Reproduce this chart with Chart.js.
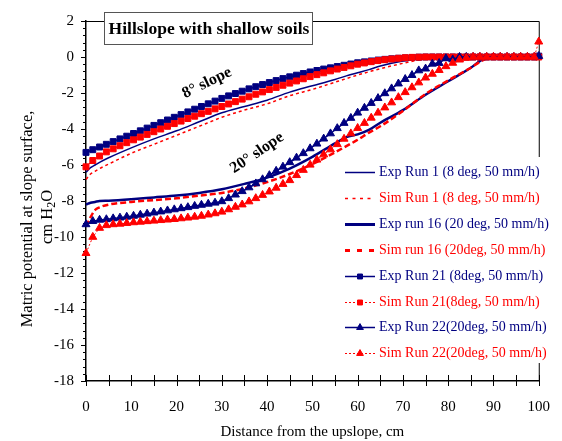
<!DOCTYPE html>
<html>
<head>
<meta charset="utf-8">
<script src="https://cdn.jsdelivr.net/npm/chart.js@4.4.0/dist/chart.umd.min.js"></script>
<style>
  html, body { margin: 0; padding: 0; background: #fff; }
  canvas { display: block; }
</style>
</head>
<body>
<canvas id="grafico" width="562" height="441"></canvas>
<script>
// distancia desde la parte alta de la ladera (cm)
const dist = [0,1.5,3,4.5,6,7.5,9,10.5,12,13.5,15,16.5,18,19.5,21,22.5,24,25.5,27,28.5,
  30,31.5,33,34.5,36,37.5,39,40.5,42,43.5,45,46.5,48,49.5,51,52.5,54,55.5,57,58.5,
  60,61.5,63,64.5,66,67.5,69,70.5,72,73.5,75,76.5,78,79.5,81,82.5,84,85.5,87,88.5,
  90,91.5,93,94.5,96,97.5,99,100];
const distLine = [0,1,2,3,5,10,15,20,25,30,35,40,45,50,55,57.5,60,62.5,65,70,75,80,85,87.5,90,95,100];

// corridas sin marcadores (distLine)
const expRun1 = [-6.4,-6.15,-6.0,-5.85,-5.6,-5.05,-4.55,-4.1,-3.6,-3.1,-2.75,-2.4,-1.95,-1.6,-1.25,-1.05,-0.87,-0.7,-0.5,-0.22,-0.05,0,0,0,0,0,0];
const simRun1 = [-6.8,-6.5,-6.35,-6.2,-5.95,-5.35,-4.85,-4.35,-3.85,-3.35,-2.95,-2.6,-2.15,-1.8,-1.4,-1.2,-1.0,-0.82,-0.65,-0.35,-0.1,0,0,0,0,0,0];
const expRun16 = [-8.2,-8.1,-8.05,-8.0,-7.98,-7.9,-7.8,-7.7,-7.55,-7.35,-7.05,-6.7,-6.2,-5.55,-4.8,-4.45,-4.3,-4.05,-3.65,-2.95,-2.1,-1.35,-0.6,-0.15,0,0,0];
const simRun16 = [-9.4,-8.9,-8.5,-8.35,-8.2,-8.05,-7.95,-7.85,-7.7,-7.55,-7.3,-6.95,-6.5,-5.95,-5.3,-4.95,-4.6,-4.2,-3.85,-3.0,-2.05,-1.3,-0.6,-0.2,0,0,0];

// corridas con marcadores (dist)
const expRun21 = [-5.3,-5.15,-5.0,-4.85,-4.7,-4.55,-4.4,-4.25,-4.1,-3.95,
  -3.8,-3.65,-3.5,-3.35,-3.2,-3.05,-2.9,-2.75,-2.6,-2.45,
  -2.3,-2.16,-2.03,-1.9,-1.77,-1.65,-1.53,-1.42,-1.31,-1.2,
  -1.1,-1.01,-0.92,-0.83,-0.75,-0.67,-0.6,-0.53,-0.46,-0.39,
  -0.32,-0.27,-0.22,-0.17,-0.13,-0.1,-0.07,-0.05,-0.03,-0.01,
  0,0,0,0,0,0,0,0,0,0,
  0,0,0,0,0,0,0,0.05];
const simRun21 = [-6.1,-5.75,-5.5,-5.27,-5.1,-4.93,-4.76,-4.6,-4.45,-4.3,
  -4.15,-4.0,-3.85,-3.7,-3.56,-3.42,-3.29,-3.15,-3.02,-2.88,
  -2.75,-2.61,-2.48,-2.34,-2.21,-2.07,-1.94,-1.81,-1.69,-1.57,
  -1.45,-1.33,-1.21,-1.09,-0.98,-0.88,-0.77,-0.67,-0.58,-0.49,
  -0.4,-0.33,-0.26,-0.2,-0.15,-0.11,-0.07,-0.04,-0.02,-0.01,
  0,0,0,0,0,0,0,0,0,0,
  0,0,0,0,0,0,0,0];
const expRun22 = [-9.3,-9.12,-9.05,-9.02,-8.97,-8.93,-8.88,-8.83,-8.77,-8.71,
  -8.65,-8.59,-8.53,-8.47,-8.41,-8.35,-8.28,-8.22,-8.16,-8.1,
  -8.02,-7.85,-7.65,-7.46,-7.25,-7.03,-6.8,-6.57,-6.33,-6.1,
  -5.85,-5.6,-5.35,-5.08,-4.82,-4.54,-4.25,-3.96,-3.67,-3.39,
  -3.1,-2.83,-2.56,-2.29,-2.02,-1.75,-1.48,-1.23,-1.01,-0.75,
  -0.65,-0.38,-0.34,-0.08,-0.14,0,0,0,0,0,
  0,0,0,0,0,0,0,0.05];
const simRun22 = [-10.9,-10.0,-9.5,-9.35,-9.3,-9.27,-9.23,-9.19,-9.16,-9.13,
  -9.1,-9.07,-9.04,-9.01,-8.97,-8.93,-8.88,-8.83,-8.76,-8.69,
  -8.6,-8.47,-8.33,-8.2,-8.03,-7.85,-7.67,-7.48,-7.27,-7.06,
  -6.85,-6.57,-6.28,-5.99,-5.71,-5.42,-5.14,-4.85,-4.55,-4.25,
  -3.95,-3.67,-3.38,-3.1,-2.81,-2.53,-2.24,-1.96,-1.69,-1.42,
  -1.15,-0.94,-0.73,-0.52,-0.33,-0.15,-0.05,0,0,0,
  0,0,0,0,0,0,0,0.85];

const etiquetas = [
  'Exp Run 1 (8 deg, 50 mm/h)',
  'Sim Run 1 (8 deg, 50 mm/h)',
  'Exp run 16 (20 deg, 50 mm/h)',
  'Sim run 16 (20deg, 50 mm/h)',
  'Exp Run 21 (8deg, 50 mm/h)',
  'Sim Run 21(8deg, 50 mm/h)',
  'Exp Run 22(20deg, 50 mm/h)',
  'Sim Run 22(20deg, 50 mm/h)'
];

const serif = "'Liberation Serif', 'Times New Roman', serif";
const azul = '#000080';
const rojo = '#ff0000';

function puntos(xs, ys) {
  return xs.map((d, i) => ({x: d, y: ys[i]}));
}

function serie(label, xs, ys, color, extra) {
  return Object.assign({
    label: label,
    data: puntos(xs, ys),
    borderColor: color,
    backgroundColor: color,
    textColor: color,
    borderWidth: 1.5,
    pointRadius: 0,
    tension: 0,
    clip: false
  }, extra);
}

let datasets = [
  serie(etiquetas[0], distLine, expRun1, azul, {cubicInterpolationMode: 'monotone'}),
  serie(etiquetas[1], distLine, simRun1, rojo, {borderDash: [3, 3], legendDash: [3, 4.5], cubicInterpolationMode: 'monotone'}),
  serie(etiquetas[2], distLine, expRun16, azul, {borderWidth: 2.5, legendWidth: 3, cubicInterpolationMode: 'monotone'}),
  serie(etiquetas[3], distLine, simRun16, rojo, {borderWidth: 2.5, legendWidth: 3, borderDash: [6, 3], legendDash: [5, 7], cubicInterpolationMode: 'monotone'}),
  serie(etiquetas[4], dist, expRun21, azul, {pointStyle: 'rect', pointRadius: 4.2, pointBorderWidth: 1, pointBackgroundColor: azul, pointBorderColor: azul}),
  serie(etiquetas[5], dist, simRun21, rojo, {borderWidth: 1, borderDash: [2, 2], pointStyle: 'rect', pointRadius: 4.2, pointBorderWidth: 1, pointBackgroundColor: rojo, pointBorderColor: rojo}),
  serie(etiquetas[6], dist, expRun22, azul, {pointStyle: 'triangle', pointRadius: 4.6, pointBorderWidth: 1, pointBackgroundColor: azul, pointBorderColor: azul}),
  serie(etiquetas[7], dist, simRun22, rojo, {borderWidth: 1, borderDash: [2, 2], pointStyle: 'triangle', pointRadius: 4.6, pointBorderWidth: 1, pointBackgroundColor: rojo, pointBorderColor: rojo})
];
// la ultima serie queda encima
datasets.forEach((ds, i) => { ds.order = datasets.length - i; });

// marco, marcas de ejes, textos y leyenda
const adornos = {
  id: 'adornos',
  beforeDatasetsDraw(chart) {
    const {ctx, chartArea: a, scales: {x, y}} = chart;
    ctx.save();
    ctx.strokeStyle = '#000';
    ctx.lineWidth = 1;
    ctx.beginPath();
    ctx.moveTo(a.left, a.top + 0.5);
    ctx.lineTo(a.right + 0.5, a.top + 0.5);
    ctx.lineTo(a.right + 0.5, a.bottom);
    ctx.stroke();
    ctx.beginPath();
    for (let v = 0; v <= 100; v += 5) {
      const px = Math.round(x.getPixelForValue(v)) + 0.5;
      ctx.moveTo(px, a.bottom - 6);
      ctx.lineTo(px, a.bottom + 5);
    }
    for (let k = 0; k <= 50; k++) {
      const py = Math.round(y.getPixelForValue(-18 + k * 0.4)) + 0.5;
      const largo = k % 5 === 0 ? 5 : 3;
      ctx.moveTo(a.left - largo, py);
      ctx.lineTo(a.left, py);
    }
    ctx.stroke();
    ctx.restore();
  },
  afterDraw(chart) {
    const ctx = chart.ctx;
    ctx.save();
    ctx.fillStyle = '#000';
    ctx.textAlign = 'center';
    ctx.textBaseline = 'middle';

    // titulo del eje y (con subindice)
    const fy = '16.5px ' + serif, fs = '12px ' + serif;
    ctx.font = fy;
    ctx.save();
    ctx.translate(28, 219);
    ctx.rotate(-Math.PI / 2);
    ctx.fillText('Matric potential at slope surface,', 0, 0);
    ctx.restore();
    ctx.save();
    ctx.translate(48, 217);
    ctx.rotate(-Math.PI / 2);
    ctx.textAlign = 'left';
    const w1 = ctx.measureText('cm H').width;
    ctx.font = fs;
    const w2 = ctx.measureText('2').width;
    ctx.font = fy;
    const w3 = ctx.measureText('O').width;
    let cx = -(w1 + w2 + w3) / 2;
    ctx.fillText('cm H', cx, 0);
    ctx.font = fs;
    ctx.fillText('2', cx + w1, 4);
    ctx.font = fy;
    ctx.fillText('O', cx + w1 + w2, 0);
    ctx.restore();

    // pendientes
    ctx.font = 'bold 16px ' + serif;
    ctx.save();
    ctx.translate(207, 83);
    ctx.rotate(-26 * Math.PI / 180);
    ctx.fillText('8° slope', 0, 0);
    ctx.restore();
    ctx.save();
    ctx.translate(257, 153);
    ctx.rotate(-34 * Math.PI / 180);
    ctx.fillText('20° slope', 0, 0);
    ctx.restore();

    // recuadro del titulo
    ctx.fillStyle = '#fff';
    ctx.fillRect(104.5, 12.5, 208, 32);
    ctx.strokeStyle = '#555';
    ctx.lineWidth = 1;
    ctx.strokeRect(104.5, 12.5, 208, 32);
    ctx.fillStyle = '#000';
    ctx.font = 'bold 17.5px ' + serif;
    ctx.fillText('Hillslope with shallow soils', 209, 29);

    // leyenda
    ctx.fillStyle = '#fff';
    ctx.fillRect(342, 157, 220, 206);
    chart.data.datasets.forEach((ds, i) => {
      const yy = Math.round(172 + i * 25.9) + 0.5;
      ctx.save();
      ctx.strokeStyle = ds.borderColor;
      ctx.lineWidth = ds.legendWidth || ds.borderWidth;
      ctx.setLineDash(ds.legendDash || ds.borderDash || []);
      ctx.beginPath();
      ctx.moveTo(345, yy);
      ctx.lineTo(375, yy);
      ctx.stroke();
      ctx.setLineDash([]);
      if (ds.pointRadius > 0) {
        ctx.fillStyle = ds.pointBackgroundColor;
        ctx.strokeStyle = ds.pointBorderColor;
        ctx.lineWidth = 1;
        Chart.helpers.drawPoint(ctx, {pointStyle: ds.pointStyle, radius: ds.pointRadius - 0.7, borderWidth: 1, rotation: 0}, 360, yy);
      }
      ctx.fillStyle = ds.textColor;
      ctx.font = '14px ' + serif;
      ctx.textAlign = 'left';
      ctx.textBaseline = 'middle';
      ctx.fillText(ds.label, 379, yy);
      ctx.restore();
    });
    ctx.restore();
  }
};

let ctx = document.getElementById('grafico').getContext('2d');
let grafico = new Chart(ctx, {
  type: 'line',
  data: { datasets: datasets },
  options: {
    responsive: false,
    animation: false,
    devicePixelRatio: 1,
    layout: { padding: { top: 21, right: 18, left: 0, bottom: 0 } },
    plugins: {
      legend: { display: false },
      tooltip: { enabled: false }
    },
    scales: {
      x: {
        type: 'linear',
        min: 0,
        max: 100,
        afterFit: (s) => { s.height = 60; },
        grid: { display: false, drawTicks: true, tickLength: 5 },
        border: { display: true, color: '#000', width: 1.5 },
        ticks: { stepSize: 10, padding: 12, color: '#000', font: { family: serif, size: 15 } },
        title: { display: true, text: 'Distance from the upslope, cm', color: '#000', padding: 0, font: { family: serif, size: 15 } }
      },
      y: {
        min: -18,
        max: 2,
        afterFit: (s) => { s.width = 86; },
        grid: { display: false, drawTicks: true, tickLength: 5 },
        border: { display: true, color: '#000', width: 1.5 },
        ticks: { stepSize: 2, padding: 7, color: '#000', font: { family: serif, size: 15 } }
      }
    }
  },
  plugins: [adornos]
});
</script>
</body>
</html>
